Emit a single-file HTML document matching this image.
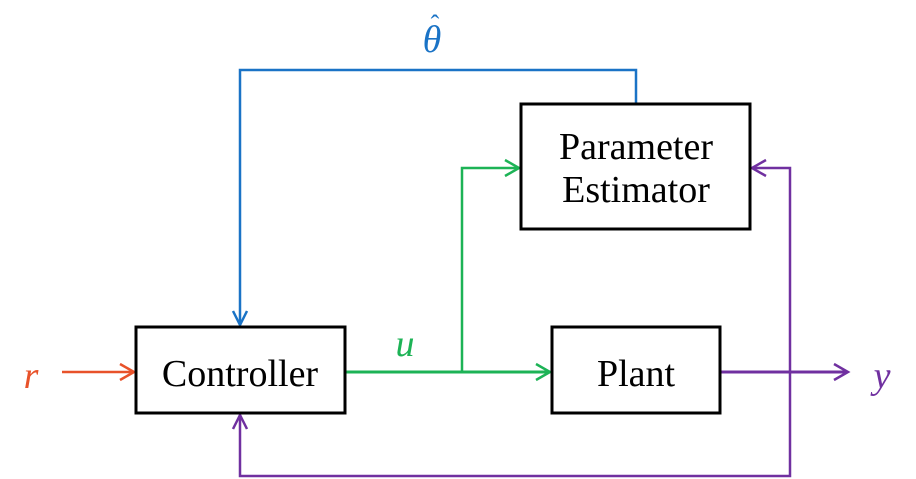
<!DOCTYPE html>
<html><head><style>
body{margin:0;background:#fff;}
svg{display:block;}
text{font-family:"Liberation Serif",serif;}
</style></head><body>
<svg width="916" height="479" viewBox="0 0 916 479" xmlns="http://www.w3.org/2000/svg">
<g fill="none" stroke-width="2.5" stroke-linecap="butt">
<polyline points="636,104 636,70 240,70 240,325" stroke="#1a73c6"/>
<polyline points="233,311 240,325 247,311" stroke="#1a73c6"/>
<line x1="62" y1="372" x2="134" y2="372" stroke="#e8522a"/>
<polyline points="120,364 134,372 120,380" stroke="#e8522a"/>
<line x1="345" y1="372" x2="550" y2="372" stroke="#1db356" stroke-width="3"/>
<polyline points="536,364 550,372 536,380" stroke="#1db356"/>
<polyline points="462,372 462,168 519,168" stroke="#1db356"/>
<polyline points="505,160 519,168 505,176" stroke="#1db356"/>
<line x1="720" y1="372" x2="848" y2="372" stroke="#7030a0" stroke-width="3"/>
<polyline points="834,364 848,372 834,380" stroke="#7030a0"/>
<polyline points="752,168 790,168 790,476 240,476 240,415" stroke="#7030a0"/>
<polyline points="766,160 752,168 766,176" stroke="#7030a0"/>
<polyline points="233,429 240,415 247,429" stroke="#7030a0"/>
</g>
<g fill="#fff" stroke="#000" stroke-width="3">
<rect x="136" y="327" width="209" height="86"/>
<rect x="552" y="327" width="168" height="86"/>
<rect x="521" y="104" width="229" height="125"/>
</g>
<g font-size="38" fill="#000" text-anchor="middle">
<text x="240" y="386">Controller</text>
<text x="636" y="386">Plant</text>
<text x="636" y="159">Parameter</text>
<text x="636" y="202">Estimator</text>
</g>
<g font-size="38" font-style="italic" text-anchor="middle">
<text x="31" y="388" fill="#e8522a">r</text>
<text x="405" y="356" fill="#1db356">u</text>
<text x="882" y="388" fill="#7030a0">y</text>
<text x="432" y="52" fill="#1a73c6">θ</text>
<text x="435" y="33" fill="#1a73c6" font-size="26" font-style="normal">ˆ</text>
</g>
</svg>
</body></html>
